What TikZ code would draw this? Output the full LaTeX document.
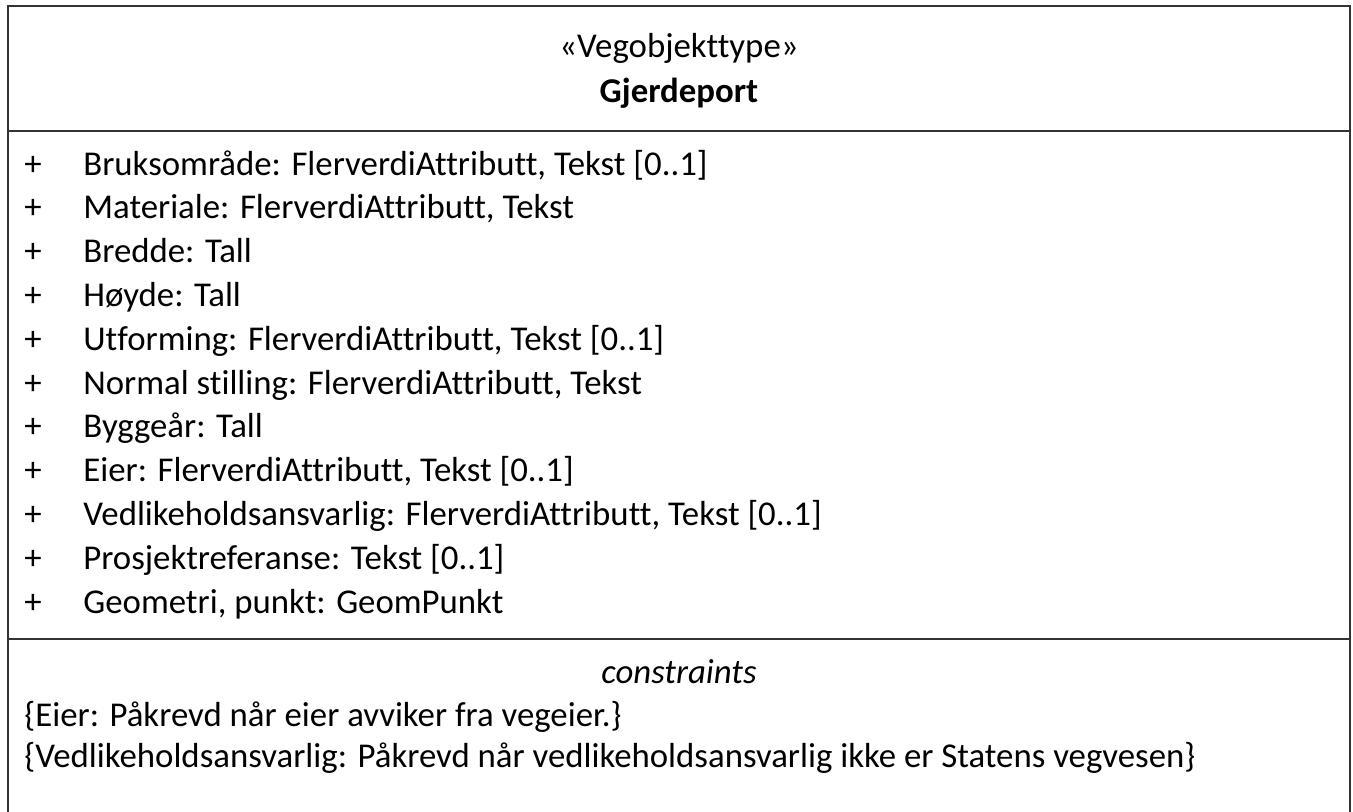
\documentclass[tikz,border=0pt]{standalone}
\usepackage{fontspec}
\setmainfont{Carlito}[Ligatures=NoCommon]
\tikzset{
  frame/.style={draw=black!80, line width=1pt},
  umltext/.style={inner sep=0pt, anchor=base west, font=\fontsize{17.4}{21}\selectfont},
  umltitle/.style={inner sep=0pt, anchor=base, font=\fontsize{17.4}{21}\selectfont}
}
\begin{document}
\begin{tikzpicture}[x=0.5pt, y=-0.5pt]
  \useasboundingbox (0,0) rectangle (1353,811);
  % outer frame, open at the bottom edge of the page
  \coordinate (bl) at (8,815);
  \coordinate (tl) at (8,6);
  \coordinate (tr) at (1350,6);
  \coordinate (br) at (1350,815);
  \draw[frame] (bl) -- (tl) -- (tr) -- (br);
  \draw[frame] (8,131) -- (1350,131);
  \draw[frame] (8,639) -- (1350,639);
  % header
  \node[umltitle] (stereo) at (679,57) {«Vegobjekttype»};
  \node[umltitle, font=\fontsize{17.4}{21}\selectfont\bfseries] (klasse) at (679,102) {Gjerdeport};
  % attributes
  \foreach \txt [count=\i] in {
      {Bruksområde: FlerverdiAttributt, Tekst [0..1]},
      {Materiale: FlerverdiAttributt, Tekst},
      {Bredde: Tall},
      {Høyde: Tall},
      {Utforming: FlerverdiAttributt, Tekst [0..1]},
      {Normal stilling: FlerverdiAttributt, Tekst},
      {Byggeår: Tall},
      {Eier: FlerverdiAttributt, Tekst [0..1]},
      {Vedlikeholdsansvarlig: FlerverdiAttributt, Tekst [0..1]},
      {Prosjektreferanse: Tekst [0..1]},
      {Geometri, punkt: GeomPunkt}}
  {
    \node[umltext] (plus\i) at (24,{175+43.8*(\i-1)}) {+};
    \node[umltext] (attr\i) at (83,{175+43.8*(\i-1)}) {\txt};
  }
  % constraints
  \node[umltitle, font=\fontsize{17.4}{21}\selectfont\itshape] (constr) at (679,683) {constraints};
  \node[umltext] (eier) at (24,726) {\{Eier: Påkrevd når eier avviker fra vegeier.\}};
  \node[umltext] (vedl) at (24,767) {\{Vedlikeholdsansvarlig: Påkrevd når vedlikeholdsansvarlig ikke er Statens vegvesen\}};
\end{tikzpicture}
\end{document}
